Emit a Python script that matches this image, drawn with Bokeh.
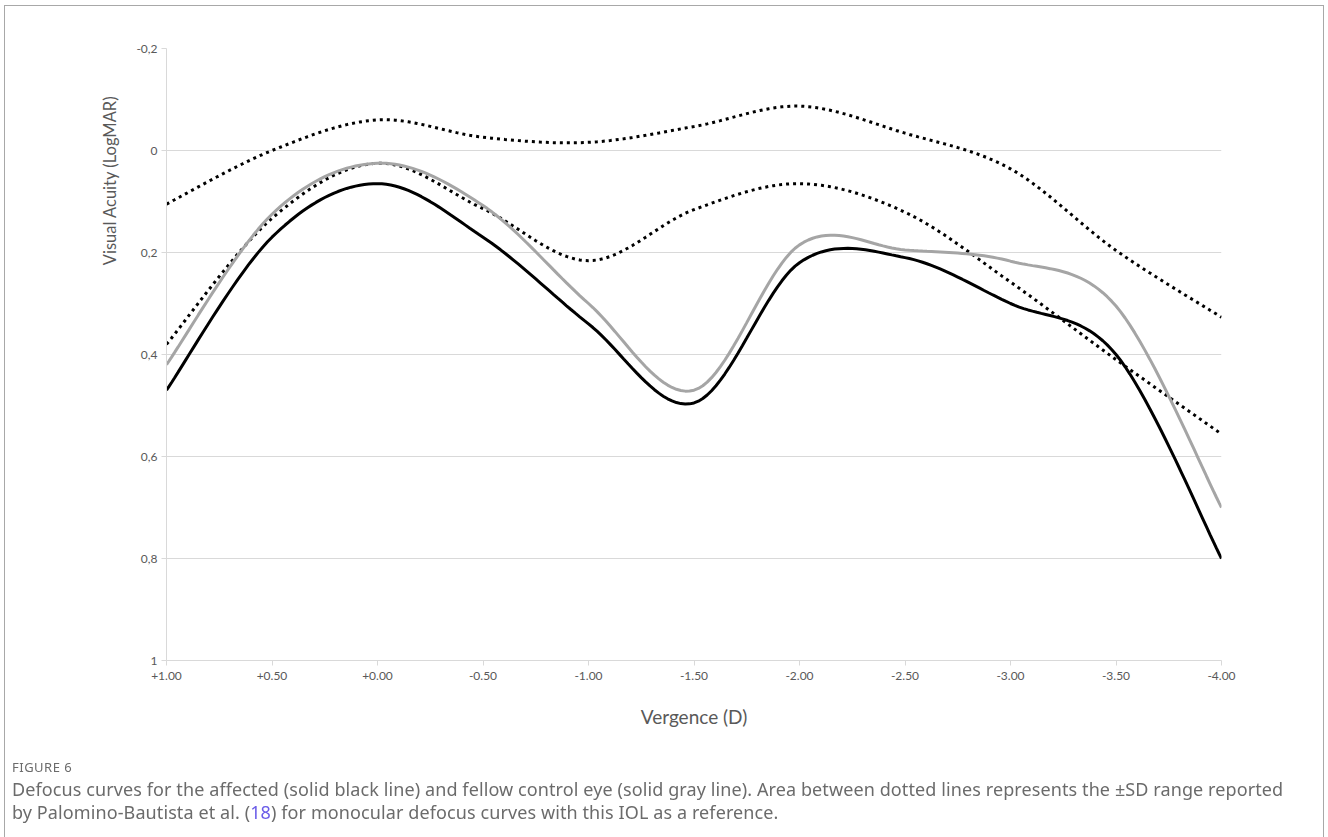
import numpy as np
from bokeh.plotting import figure
from bokeh.models import Range1d, FixedTicker, Title, Div
from bokeh.layouts import column
from bokeh.embed import file_html
from bokeh.resources import INLINE

vergence = ["+1.00", "+0.50", "+0.00", "-0.50", "-1.00", "-1.50",
            "-2.00", "-2.50", "-3.00", "-3.50", "-4.00"]
affected = [0.47, 0.17, 0.065, 0.17, 0.34, 0.495, 0.22, 0.21, 0.30, 0.40, 0.80]
fellow = [0.42, 0.125, 0.025, 0.108, 0.30, 0.47, 0.185, 0.195, 0.217, 0.305, 0.70]
sd_upper = [0.105, 0.0, -0.06, -0.026, -0.016, -0.047, -0.087, -0.034, 0.036, 0.196, 0.327]
sd_lower = [0.38, 0.133, 0.025, 0.114, 0.216, 0.116, 0.065, 0.121, 0.258, 0.41, 0.556]
y_ticks = [-0.2, 0, 0.2, 0.4, 0.6, 0.8, 1.0]
y_tick_labels = ["-0,2", "0", "0,2", "0,4", "0,6", "0,8", "1"]


def smooth(ys, steps=24):
    """Excel-like smoothed line (Catmull-Rom Bezier through the points)."""
    xs = np.arange(len(ys), dtype=float)
    ys = np.asarray(ys, dtype=float)
    px = np.concatenate([[xs[0]], xs, [xs[-1]]])
    py = np.concatenate([[ys[0]], ys, [ys[-1]]])
    ox, oy = [], []
    t = np.linspace(0, 1, steps, endpoint=False)
    for i in range(1, len(px) - 2):
        p0x, p1x, p2x, p3x = px[i - 1], px[i], px[i + 1], px[i + 2]
        p0y, p1y, p2y, p3y = py[i - 1], py[i], py[i + 1], py[i + 2]
        c1x, c1y = p1x + (p2x - p0x) / 6, p1y + (p2y - p0y) / 6
        c2x, c2y = p2x - (p3x - p1x) / 6, p2y - (p3y - p1y) / 6
        b0 = (1 - t) ** 3
        b1 = 3 * (1 - t) ** 2 * t
        b2 = 3 * (1 - t) * t ** 2
        b3 = t ** 3
        ox.extend(b0 * p1x + b1 * c1x + b2 * c2x + b3 * p2x)
        oy.extend(b0 * p1y + b1 * c1y + b2 * c2y + b3 * p2y)
    ox.append(xs[-1])
    oy.append(ys[-1])
    return ox, oy


p = figure(width=1328, height=740, output_backend="svg", toolbar_location=None,
           x_range=Range1d(0, len(vergence) - 1), y_range=Range1d(1, -0.2),
           min_border_left=166, min_border_right=107, min_border_top=48,
           min_border_bottom=80)
p.outline_line_color = None
p.background_fill_color = "white"
p.border_fill_color = "white"

grid_col = "#d9d9d9"
text_col = "#595959"
p.xaxis.ticker = FixedTicker(ticks=list(range(len(vergence))))
p.xaxis.major_label_overrides = {i: v for i, v in enumerate(vergence)}
p.yaxis.ticker = FixedTicker(ticks=y_ticks)
p.yaxis.major_label_overrides = {t: l for t, l in zip(y_ticks, y_tick_labels)}
for ax in (p.xaxis[0], p.yaxis[0]):
    ax.axis_line_color = grid_col
    ax.major_tick_line_color = grid_col
    ax.major_tick_in = 0
    ax.major_tick_out = 5
    ax.minor_tick_line_color = None
    ax.major_label_text_font = "Lato"
    ax.major_label_text_font_size = "12px"
    ax.major_label_text_color = text_col
    ax.axis_label_text_font = "Lato"
    ax.axis_label_text_font_style = "normal"
    ax.axis_label_text_color = text_col
p.xaxis.axis_label = "Vergence (D)"
p.xaxis.axis_label_text_font_size = "19px"
p.xaxis.major_label_standoff = 6
p.xaxis.axis_label_standoff = 22
p.yaxis.major_label_standoff = 4

# y axis title sits high on the axis, as in the reference
p.add_layout(Title(text="Visual Acuity (LogMAR)", align="right", offset=47,
                   text_font="Lato", text_font_size="16.5px", text_font_style="normal",
                   text_color=text_col, standoff=27), "left")

p.xgrid.grid_line_color = None
p.ygrid.grid_line_color = grid_col
p.ygrid.grid_line_width = 1

for ys in (sd_upper, sd_lower):
    sx, sy = smooth(ys)
    p.line(sx, sy, line_color="black", line_width=3, line_dash="3 4")
sx, sy = smooth(fellow)
p.line(sx, sy, line_color="#a5a5a5", line_width=3)
sx, sy = smooth(affected)
p.line(sx, sy, line_color="black", line_width=3)

caption_html = (
    '<div style="position:fixed;left:4px;top:5px;width:1320px;height:900px;'
    'border:1px solid #a8a8a8;box-sizing:border-box;pointer-events:none"></div>'
    '<div style="position:fixed;left:12px;top:759px;font-family:\'Noto Sans\';'
    'font-size:13px;line-height:16px;color:#6b6b6b;letter-spacing:0.5px">FIGURE 6</div>'
    '<div style="position:fixed;left:12px;top:778px;width:1310px;font-family:\'Noto Sans\';'
    'font-size:18px;line-height:23px;color:#6b6b6b;letter-spacing:0.1px;white-space:nowrap">'
    'Defocus curves for the affected (solid black line) and fellow control eye (solid gray line). '
    'Area between dotted lines represents the \u00b1SD range reported<br>'
    'by Palomino-Bautista et al. (<span style="color:#6a5ce8">18</span>) for monocular defocus '
    'curves with this IOL as a reference.</div>'
)
cap = Div(text=caption_html, width=1328, height=97)

open("out.html", "w").write(file_html(column(p, cap), INLINE))
